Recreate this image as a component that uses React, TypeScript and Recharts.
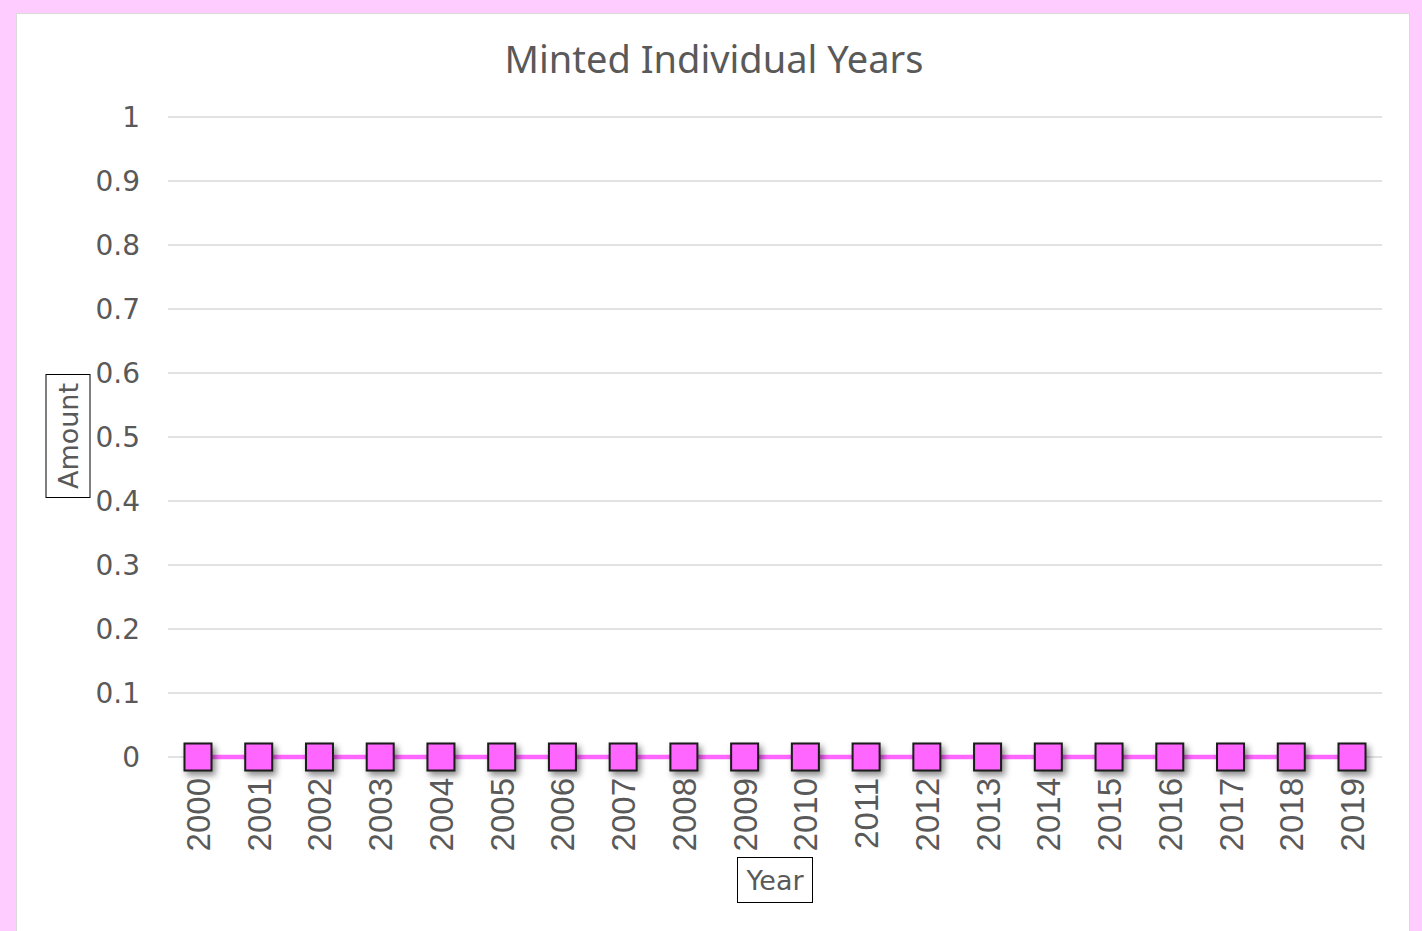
import React from "react"
import {
  LineChart,
  Line,
  XAxis,
  YAxis,
  CartesianGrid,
  Label,
} from "recharts"

const years = [
  "2000", "2001", "2002", "2003", "2004", "2005", "2006", "2007", "2008", "2009",
  "2010", "2011", "2012", "2013", "2014", "2015", "2016", "2017", "2018", "2019",
]
const amounts = [0, 0, 0, 0, 0, 0, 0, 0, 0, 0, 0, 0, 0, 0, 0, 0, 0, 0, 0, 0]
const yTicks = [0, 0.1, 0.2, 0.3, 0.4, 0.5, 0.6, 0.7, 0.8, 0.9, 1]

const data = years.map((year, i) => ({ year, amount: amounts[i] }))

const TITLE_FONT = "'Noto Sans', 'Open Sans', sans-serif"
const FONT = "'DejaVu Sans', sans-serif"
const X_FONT = "'Liberation Sans', Arial, sans-serif"
const TEXT = "#595959"
const PINK = "#ff66ff"

function SquareDot(props: any) {
  const { cx, cy } = props
  if (cx == null || cy == null) return null
  return (
    <rect
      x={cx - 13.5}
      y={cy - 13.5}
      width={27}
      height={27}
      fill={PINK}
      stroke="#1a1a1a"
      strokeWidth={2}
      filter="url(#dotShadow)"
    />
  )
}

function XTick(props: any) {
  const { x, y, payload } = props
  return (
    <text
      x={0}
      y={0}
      transform={`translate(${x + 12},${y}) rotate(-90)`}
      textAnchor="end"
      fill={TEXT}
      fontSize={33}
      fontFamily={X_FONT}
    >
      {payload.value}
    </text>
  )
}

function BoxLabel({ text, cx, cy, w, h, rotate }: any) {
  return (
    <g transform={`translate(${cx},${cy})${rotate ? " rotate(-90)" : ""}`}>
      <rect x={-w / 2} y={-h / 2} width={w} height={h} fill="#fff" stroke="#000" strokeWidth={1} />
      <text
        x={0}
        y={10}
        textAnchor="middle"
        fill={TEXT}
        fontSize={27}
        fontFamily={FONT}
      >
        {text}
      </text>
    </g>
  )
}

export default function App() {
  return (
    <div
      style={{
        position: "absolute",
        left: 0,
        top: 0,
        width: 1422,
        height: 931,
        background: "#ffccff",
        overflow: "hidden",
      }}
    >
      <div
        style={{
          position: "absolute",
          left: 16,
          top: 13,
          width: 1394,
          height: 930,
          background: "#fff",
          border: "1px solid #d9d9d9",
          boxSizing: "border-box",
        }}
      />
      <div
        style={{
          position: "absolute",
          left: 0,
          top: 32,
          width: 1428,
          textAlign: "center",
          fontFamily: TITLE_FONT,
          fontSize: 38,
          color: TEXT,
        }}
      >
        Minted Individual Years
      </div>
      <div style={{ position: "absolute", left: 0, top: 0 }}>
        <LineChart
          width={1422}
          height={931}
          data={data}
          margin={{ top: 117, right: 40, bottom: 74, left: 108 }}
        >
          <defs>
            <filter id="dotShadow" x="-50%" y="-50%" width="200%" height="200%">
              <feDropShadow dx={3} dy={4} stdDeviation={3} floodColor="#000" floodOpacity={0.45} />
            </filter>
          </defs>
          <CartesianGrid vertical={false} stroke="#d9d9d9" strokeWidth={1.5} />
          <XAxis
            dataKey="year"
            height={100}
            interval={0}
            padding={{ left: 30, right: 30 }}
            tickLine={false}
            axisLine={false}
            tick={<XTick />}
            tickMargin={15}
          >
            <Label
              content={() => <BoxLabel text="Year" cx={775} cy={880} w={75} h={45} />}
            />
          </XAxis>
          <YAxis
            width={60}
            domain={[0, 1]}
            ticks={yTicks}
            interval={0}
            tickLine={false}
            axisLine={false}
            tickMargin={22}
            tick={{ fill: TEXT, fontSize: 28, fontFamily: FONT }}
          >
            <Label
              content={() => <BoxLabel text="Amount" cx={68} cy={436} w={123} h={44} rotate />}
            />
          </YAxis>
          <Line
            dataKey="amount"
            stroke={PINK}
            strokeWidth={4.5}
            dot={<SquareDot />}
            activeDot={false}
            isAnimationActive={false}
          />
        </LineChart>
      </div>
    </div>
  )
}
